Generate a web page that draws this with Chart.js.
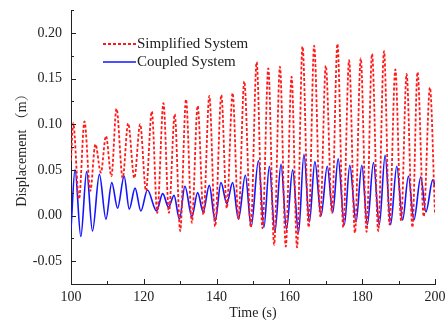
<!DOCTYPE html>
<html>
<head>
<meta charset="utf-8">
<script src="https://cdn.jsdelivr.net/npm/chart.js@4/dist/chart.umd.min.js"></script>
<style>
  html, body { margin: 0; padding: 0; background: #fff; }
  #box { width: 446px; height: 320px; }
</style>
</head>
<body>
<div id="box"><canvas id="myChart"></canvas></div>
<script>
// peaks and troughs, time (s) / displacement (m)
var simpT = [100.0, 100.6, 102.2, 103.7, 105.3, 106.7, 108.2, 109.6, 111.1, 112.5,
  114.2, 115.7, 117.4, 119.0, 120.6, 122.2, 123.7, 125.4, 126.9, 128.5,
  130.0, 131.6, 133.2, 134.8, 136.4, 138.0, 139.6, 141.3, 142.8, 144.4,
  146.0, 147.6, 149.4, 151.0, 152.6, 154.2, 155.8, 157.4, 159.0, 160.6,
  162.1, 163.6, 165.3, 166.8, 168.5, 170.0, 171.7, 173.2, 174.8, 176.4,
  178.0, 179.6, 181.2, 182.7, 184.4, 186.0, 187.5, 189.1, 190.7, 192.2,
  193.8, 195.2, 196.9, 198.6, 200.0];
var simpV = [0.060, 0.101, 0.018, 0.103, 0.027, 0.078, 0.047, 0.087, 0.043, 0.117,
  0.041, 0.101, 0.041, 0.100, 0.027, 0.114, 0.003, 0.123, 0.003, 0.111,
  -0.017, 0.127, -0.008, 0.120, 0.001, 0.131, -0.012, 0.132, 0.008, 0.134,
  -0.004, 0.147, -0.013, 0.168, -0.014, 0.161, -0.032, 0.163, -0.034, 0.152,
  -0.035, 0.185, -0.013, 0.186, -0.001, 0.164, 0.003, 0.188, -0.013, 0.170,
  -0.019, 0.172, -0.018, 0.177, -0.017, 0.180, -0.010, 0.160, -0.006, 0.155,
  -0.013, 0.157, -0.001, 0.140, 0.001];

var coupT = [100.0, 101.1, 102.7, 104.3, 105.9, 107.8, 109.6, 111.2, 112.8, 114.6,
  116.0, 117.6, 119.2, 121.0, 123.5, 125.2, 126.8, 128.3, 129.8, 131.3,
  133.2, 134.8, 136.3, 138.0, 139.6, 141.2, 142.8, 144.4, 146.0, 147.9,
  149.5, 151.5, 153.0, 154.5, 156.0, 157.7, 159.2, 160.9, 162.5, 164.0,
  165.5, 167.0, 168.7, 170.4, 171.9, 173.4, 175.1, 176.6, 178.3, 179.9,
  181.4, 183.1, 184.7, 186.3, 187.8, 189.5, 191.1, 192.7, 194.2, 196.1,
  197.5, 199.4, 200.0];
var coupV = [-0.015, 0.050, -0.023, 0.048, -0.017, 0.045, -0.004, 0.036, 0.008, 0.043,
  0.007, 0.030, 0.005, 0.028, 0.005, 0.024, 0.009, 0.022, -0.004, 0.032,
  -0.001, 0.025, 0.004, 0.033, -0.006, 0.036, 0.013, 0.036, -0.004, 0.044,
  -0.012, 0.060, -0.013, 0.054, -0.018, 0.056, -0.015, 0.050, -0.019, 0.067,
  -0.007, 0.059, 0.000, 0.054, 0.003, 0.062, -0.010, 0.055, -0.007, 0.055,
  -0.010, 0.058, -0.010, 0.066, -0.010, 0.054, -0.005, 0.043, -0.005, 0.042,
  0.004, 0.039, 0.032];

var seriesNames = ["Simplified System", "Coupled System"];
var xTicks = [100, 120, 140, 160, 180, 200];
var yTicks = [-0.05, 0.00, 0.05, 0.10, 0.15, 0.20];

function pairs(t, v) {
  return t.map(function (x, i) { return { x: x, y: v[i] }; });
}

function isLabel(list, v) {
  return list.some(function (k) { return Math.abs(k - v) < 1e-6; });
}

var serif = "'Liberation Serif', 'Times New Roman', 'Noto Serif CJK SC', 'Noto Sans CJK SC', serif";

// inward tick marks like the original plot
var inwardTicks = {
  id: "inwardTicks",
  afterDraw: function (chart) {
    var ctx = chart.ctx;
    var xs = chart.scales.x, ys = chart.scales.y;
    ctx.save();
    ctx.strokeStyle = "#222";
    ctx.lineWidth = 1;
    ctx.beginPath();
    xs.ticks.forEach(function (t) {
      var px = Math.round(xs.getPixelForValue(t.value)) + 0.5;
      var len = isLabel(xTicks, t.value) ? 5 : 3;
      ctx.moveTo(px, xs.top);
      ctx.lineTo(px, xs.top - len);
    });
    ys.ticks.forEach(function (t) {
      var py = Math.round(ys.getPixelForValue(t.value)) + 0.5;
      var len = isLabel(yTicks, t.value) ? 5 : 3;
      ctx.moveTo(ys.right, py);
      ctx.lineTo(ys.right + len, py);
    });
    ctx.stroke();
    ctx.restore();
  }
};

// legend sitting inside the plot, upper left
var innerLegend = {
  id: "innerLegend",
  afterDraw: function (chart) {
    var ctx = chart.ctx;
    var area = chart.chartArea;
    var x0 = area.left + 32, y0 = area.top + 34;
    ctx.save();
    ctx.font = "15px " + serif;
    ctx.textBaseline = "middle";
    chart.data.datasets.forEach(function (ds, i) {
      var y = y0 + i * 18;
      ctx.strokeStyle = ds.borderColor;
      ctx.lineWidth = ds.borderWidth;
      ctx.setLineDash(ds.borderDash || []);
      ctx.beginPath();
      ctx.moveTo(x0, y);
      ctx.lineTo(x0 + 33, y);
      ctx.stroke();
      ctx.setLineDash([]);
      ctx.fillStyle = "#222";
      ctx.fillText(ds.label, x0 + 34, y);
    });
    ctx.restore();
  }
};

new Chart("myChart", {
  type: "line",
  data: {
    datasets: [{
      label: seriesNames[0],
      data: pairs(simpT, simpV),
      borderColor: "#ff1a1a",
      borderWidth: 1.8,
      borderDash: [3, 2],
      pointRadius: 0,
      cubicInterpolationMode: "monotone",
      fill: false
    }, {
      label: seriesNames[1],
      data: pairs(coupT, coupV),
      borderColor: "#1414ff",
      borderWidth: 1.6,
      pointRadius: 0,
      cubicInterpolationMode: "monotone",
      fill: false
    }]
  },
  plugins: [inwardTicks, innerLegend],
  options: {
    responsive: true,
    maintainAspectRatio: false,
    animation: false,
    layout: { padding: { top: 10, right: 11, left: 0, bottom: 0 } },
    plugins: {
      legend: { display: false },
      tooltip: { enabled: false }
    },
    scales: {
      x: {
        type: "linear",
        min: 100,
        max: 200,
        grid: { display: false, drawTicks: false },
        border: { display: true, color: "#222", width: 1 },
        ticks: {
          stepSize: 10,
          autoSkip: false,
          maxRotation: 0,
          padding: 5,
          color: "#222",
          font: { family: serif, size: 14 },
          callback: function (v) { return isLabel(xTicks, v) ? String(Math.round(v)) : ""; }
        },
        title: {
          display: true,
          text: "Time (s)",
          color: "#222",
          font: { family: serif, size: 14, lineHeight: 1 },
          padding: { top: 0, bottom: 0 }
        },
        afterFit: function (s) {
          s.height = 36;
          s.paddingLeft = 0;
          s.paddingRight = 0;
        }
      },
      y: {
        min: -0.075,
        max: 0.225,
        grid: { display: false, drawTicks: false },
        border: { display: true, color: "#222", width: 1 },
        ticks: {
          stepSize: 0.025,
          autoSkip: false,
          padding: 9,
          color: "#222",
          font: { family: serif, size: 14 },
          callback: function (v) { return isLabel(yTicks, v) ? v.toFixed(2) : ""; }
        },
        title: {
          display: true,
          text: "Displacement （m）",
          color: "#222",
          font: { family: serif, size: 14, lineHeight: 1.2 },
          padding: { top: 14, bottom: 0 }
        },
        afterFit: function (s) {
          s.width = 71;
          s.paddingTop = 0;
          s.paddingBottom = 0;
        }
      }
    }
  }
});
</script>
</body>
</html>
